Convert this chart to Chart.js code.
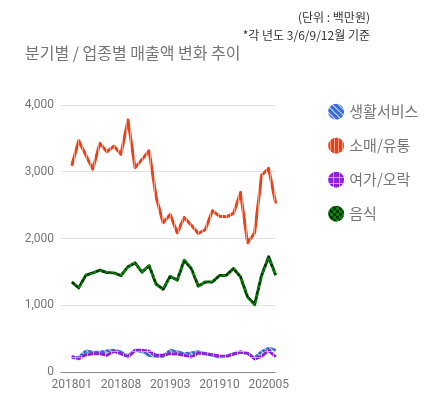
<!DOCTYPE html>
<html>
<head>
<meta charset="utf-8">
<script src="https://cdn.jsdelivr.net/npm/chart.js@4"></script>
<style>
  html, body { margin: 0; padding: 0; background: #fff; }
  #wrap { position: relative; width: 430px; height: 400px; overflow: hidden; }
  #c { position: absolute; left: 0; top: 0; }
  .note { position: absolute; right: 60px; font: 12px 'Noto Sans CJK KR', 'Noto Sans', sans-serif; color: #333; line-height: 14px; white-space: nowrap; }
  #title { position: absolute; left: 25px; top: 43px; font: 16px 'Noto Sans CJK KR', 'Noto Sans', sans-serif; color: #757575; line-height: 18px; white-space: nowrap; }
</style>
</head>
<body>
<div id="wrap">
  <canvas id="c" width="430" height="400"></canvas>
  <div class="note" style="top:10px">(단위 : 백만원)</div>
  <div class="note" style="top:28px">*각 년도 3/6/9/12월 기준</div>
  <div id="title">분기별 / 업종별 매출액 변화 추이</div>
</div>
<script>
// ---- data ----
const months = ['201801','201802','201803','201804','201805','201806','201807','201808','201809','201810','201811','201812',
                '201901','201902','201903','201904','201905','201906','201907','201908','201909','201910','201911','201912',
                '202001','202002','202003','202004','202005','202006'];
const tickLabels = ['201801','201808','201903','201910','202005'];
const seriesNames = ['생활서비스','소매/유통','여가/오락','음식'];
const lifeService = [215,215,315,295,295,315,325,300,240,325,305,250,235,235,325,305,275,285,305,275,250,225,235,270,300,275,210,305,355,325];
const retail      = [3090,3465,3250,3040,3425,3300,3385,3260,3775,3060,3185,3315,2625,2235,2360,2085,2315,2200,2075,2135,2415,2335,2325,2375,2690,1935,2085,2950,3050,2525];
const leisure     = [235,200,260,275,275,250,310,275,225,325,325,310,250,250,275,270,250,225,285,275,260,240,235,270,300,285,195,235,325,225];
const food        = [1350,1260,1450,1485,1525,1490,1485,1445,1575,1635,1495,1595,1315,1240,1435,1375,1675,1550,1285,1350,1350,1445,1450,1550,1425,1125,1010,1450,1725,1450];
const yTicks = [0,1000,2000,3000,4000];

// ---- patterns ----
function makePattern(kind) {
  const t = document.createElement('canvas');
  const g = t.getContext('2d');
  if (kind === 'diag') {
    t.width = 6; t.height = 6;
    g.fillStyle = '#3a6bd4'; g.fillRect(0,0,6,6);
    g.strokeStyle = 'rgba(255,255,255,0.7)'; g.lineWidth = 1.2;
    g.beginPath(); g.moveTo(-1,-1); g.lineTo(7,7); g.moveTo(-1,5); g.lineTo(1,7); g.moveTo(5,-1); g.lineTo(7,1); g.stroke();
  } else if (kind === 'vert') {
    t.width = 4; t.height = 4;
    g.fillStyle = '#e8411c'; g.fillRect(0,0,4,4);
    g.fillStyle = 'rgba(255,215,195,0.65)'; g.fillRect(2,0,1,4);
  } else if (kind === 'grid') {
    t.width = 6; t.height = 6;
    g.fillStyle = '#8e22d6'; g.fillRect(0,0,6,6);
    g.fillStyle = 'rgba(235,200,255,0.7)'; g.fillRect(3,0,1,6); g.fillRect(0,3,6,1);
  } else {
    t.width = 6; t.height = 6;
    g.fillStyle = '#0c7d0c'; g.fillRect(0,0,6,6);
    g.fillStyle = '#033a03'; g.fillRect(0,0,3,3); g.fillRect(3,3,3,3);
  }
  return g.createPattern(t, 'repeat');
}
const patterns = [makePattern('diag'), makePattern('vert'), makePattern('grid'), makePattern('check')];
const values = [lifeService, retail, leisure, food];
const drawOrder = [1, 1, 0, 1];

const FONT = "Roboto, 'Noto Sans CJK KR', sans-serif";
Chart.defaults.font.family = FONT;

const legendSpot = {
  id: 'legendSpot',
  afterLayout(chart) {
    const lg = chart.legend;
    lg.left = 311.5; lg.right = 430; lg.width = lg.right - lg.left;
    lg.top = 85.2; lg.bottom = 400; lg.height = lg.bottom - lg.top;
  }
};

new Chart(document.getElementById('c'), {
  type: 'line',
  data: {
    labels: months,
    datasets: seriesNames.map((name, i) => ({
      label: name,
      data: values[i],
      borderColor: patterns[i],
      backgroundColor: patterns[i],
      borderWidth: 3,
      borderJoinStyle: 'round',
      pointRadius: 0,
      pointHoverRadius: 0,
      fill: false,
      tension: 0,
      order: drawOrder[i]
    }))
  },
  options: {
    responsive: false,
    animation: false,
    layout: { padding: { top: 105, left: 25, right: 64.3, bottom: 6 } },
    plugins: {
      tooltip: { enabled: false },
      title: { display: false },
      legend: {
        position: 'right',
        align: 'start',
        maxWidth: 90,
        labels: {
          usePointStyle: true,
          boxWidth: 11.3,
          boxHeight: 11.3,
          padding: 19,
          color: '#757575',
          font: { size: 15, family: "'Noto Sans CJK KR', sans-serif" },
          sort: (a, b) => a.datasetIndex - b.datasetIndex,
          generateLabels: (chart) => Chart.defaults.plugins.legend.labels.generateLabels(chart).map(l => Object.assign(l, { lineWidth: 0 }))
        }
      }
    },
    scales: {
      x: {
        grid: { display: false, drawTicks: false },
        border: { display: false },
        ticks: {
          autoSkip: false, maxRotation: 0, minRotation: 0, padding: 6,
          color: '#757575', font: { size: 12 },
          callback: function(v, i) { const l = months[i]; return tickLabels.includes(l) ? l : ''; }
        },
        afterFit: (s) => { s.height = 22; }
      },
      y: {
        min: 0, max: 4000,
        afterBuildTicks: (s) => { s.ticks = yTicks.map(v => ({ value: v })); },
        grid: {
          color: (ctx) => (ctx.tick && ctx.tick.value === 0) ? '#8a8a8a' : '#e2e2e2',
          lineWidth: 1,
          tickLength: 11,
          drawTicks: true
        },
        border: { display: false },
        ticks: {
          padding: 6.7, color: '#757575', font: { size: 12 },
          callback: (v) => v.toLocaleString('en-US')
        },
        afterFit: (s) => { s.width = 46.7; }
      }
    }
  },
  plugins: [legendSpot]
});
</script>
</body>
</html>
